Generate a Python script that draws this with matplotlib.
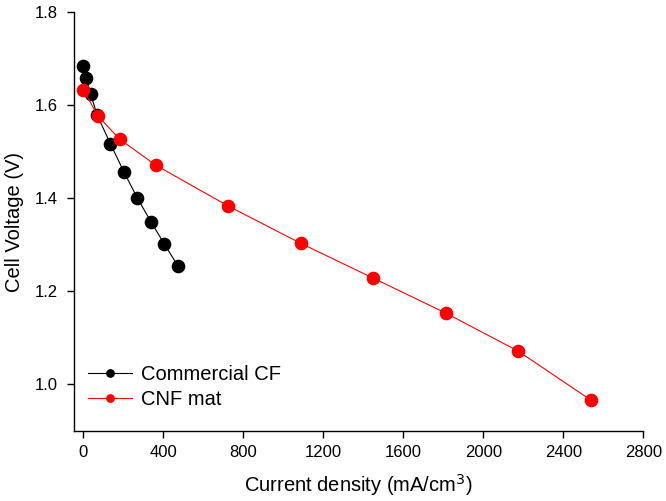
import matplotlib
matplotlib.use("Agg")
import matplotlib.pyplot as plt

plt.rcParams['font.family'] = ['Liberation Sans', 'DejaVu Sans']

cf_x = [0, 13, 36, 68, 135, 203, 270, 338, 405, 473]
cf_y = [1.684, 1.659, 1.624, 1.579, 1.517, 1.456, 1.400, 1.349, 1.301, 1.254]
cnf_x = [0, 72, 181, 362, 725, 1087, 1450, 1812, 2175, 2537]
cnf_y = [1.633, 1.577, 1.527, 1.471, 1.383, 1.303, 1.228, 1.153, 1.071, 0.966]

xticks = [0, 400, 800, 1200, 1600, 2000, 2400, 2800]
yticks = [1.0, 1.2, 1.4, 1.6, 1.8]

fig = plt.figure(figsize=(6.66, 5.01), dpi=100)
W, H = 666, 501
ax = fig.add_axes([73.5 / W, (H - 430.7) / H, (643.3 - 73.5) / W, (430.7 - 12.3) / H])

ax.plot(cf_x, cf_y, '-o', color='black', lw=0.8, ms=8.8, label='Commercial CF', zorder=3)
ax.plot(cnf_x, cnf_y, '-o', color='#ff0000', lw=0.8, ms=8.8, label='CNF mat', zorder=3)

ax.set_xlim(-50, 2800)
ax.set_ylim(0.9, 1.8)
ax.set_xticks(xticks)
ax.set_yticks(yticks)
ax.set_yticklabels([f"{v:.1f}" for v in yticks])
for s in ['top', 'right']:
    ax.spines[s].set_visible(False)
for s in ['left', 'bottom']:
    ax.spines[s].set_linewidth(1.0)
ax.tick_params(direction='out', length=5, width=1.0, labelsize=12)
ax.tick_params(axis='y', pad=6)
ax.tick_params(axis='x', pad=5)
ax.set_xlabel('Current density (mA/cm$^3$)', fontsize=14.5, labelpad=9)
ax.set_ylabel('Cell Voltage (V)', fontsize=14.5, labelpad=8)

leg = ax.legend(loc='lower left', bbox_to_anchor=(-0.007, 0.009), frameon=False, fontsize=14.5,
                handlelength=2.2, handletextpad=0.45, labelspacing=0.3, borderaxespad=0.5,
                markerscale=0.6)

fig.savefig('out.png', dpi=100)
